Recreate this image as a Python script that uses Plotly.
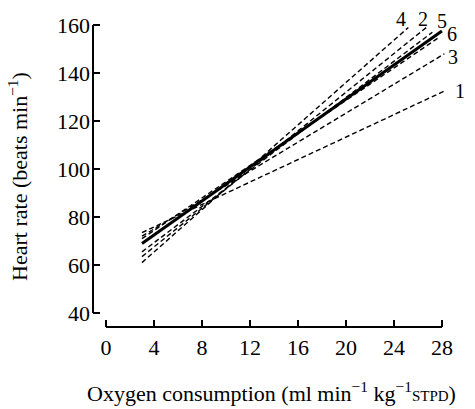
import plotly.graph_objects as go

# ---- data ----
line_labels = ["4", "2", "5", "6", "3", "1"]
x_start = [3.0, 3.0, 3.0, 3.0, 3.0, 3.0]
y_start = [61.0, 63.5, 65.5, 71.0, 72.0, 73.5]
x_end = [25.2, 26.7, 27.2, 27.8, 28.2, 28.2]
y_end = [159.0, 159.0, 157.0, 155.0, 148.0, 132.5]

mean_x = [3.0, 28.0]
mean_y = [69.0, 157.5]

x_ticks = [0, 4, 8, 12, 16, 20, 24, 28]
y_ticks = [40, 60, 80, 100, 120, 140, 160]

# label offsets (pixels) relative to each line's end
label_shift = {
    "4": (-7, 8), "2": (-3, 8), "5": (10, 11), "6": (12, 3), "3": (9, -3), "1": (16, 0),
}

FONT = "Liberation Serif, Times New Roman, serif"

fig = go.Figure()
for lab, xs, ys, xe, ye in zip(line_labels, x_start, y_start, x_end, y_end):
    fig.add_trace(go.Scatter(
        x=[xs, xe], y=[ys, ye], mode="lines",
        line=dict(color="black", width=1.4, dash="5px,3px"),
        showlegend=False, hoverinfo="skip"))
    dx, dy = label_shift[lab]
    fig.add_annotation(x=xe, y=ye, text=lab, showarrow=False,
                       xshift=dx, yshift=dy,
                       font=dict(family=FONT, size=20, color="black"))

fig.add_trace(go.Scatter(
    x=mean_x, y=mean_y, mode="lines",
    line=dict(color="black", width=3),
    showlegend=False, hoverinfo="skip"))

# detached axis lines
fig.add_shape(type="line", xref="paper", yref="y", x0=0, x1=0, y0=40, y1=160,
              line=dict(color="black", width=2))
fig.add_shape(type="line", xref="x", yref="paper", x0=0, x1=28, y0=0, y1=0,
              line=dict(color="black", width=2))

fig.update_xaxes(range=[-1.083, 28.67], tickvals=x_ticks, ticktext=[str(v) for v in x_ticks],
                 ticks="inside", ticklen=7, tickwidth=2, tickcolor="black",
                 ticklabelstandoff=5,
                 showline=False, showgrid=False, zeroline=False,
                 tickfont=dict(family=FONT, size=22, color="black"))
fig.update_yaxes(range=[34.17, 162.1], tickvals=y_ticks, ticktext=[str(v) for v in y_ticks],
                 ticks="inside", ticklen=7, tickwidth=2, tickcolor="black",
                 ticklabelstandoff=2,
                 showline=False, showgrid=False, zeroline=False,
                 tickfont=dict(family=FONT, size=22, color="black"))

fig.add_annotation(xref="paper", yref="paper", x=0.5, y=-0.212, yanchor="middle",
                   text="Oxygen consumption (ml min<sup>−1</sup> kg<sup>−1</sup><span style='font-size:15px'>STPD</span>)",
                   showarrow=False, font=dict(family=FONT, size=22, color="black"))
fig.add_annotation(xref="paper", yref="paper", x=-0.21, y=0.489, xanchor="center",
                   textangle=-90,
                   text="Heart rate (beats min<sup>−1</sup>)",
                   showarrow=False, font=dict(family=FONT, size=22, color="black"))

fig.update_layout(
    width=475, height=409,
    margin=dict(l=93, r=25, t=20, b=82),
    paper_bgcolor="white", plot_bgcolor="white",
)

fig.write_html("out.html", config={"displayModeBar": False},
               post_script="document.body.style.margin='0';")
